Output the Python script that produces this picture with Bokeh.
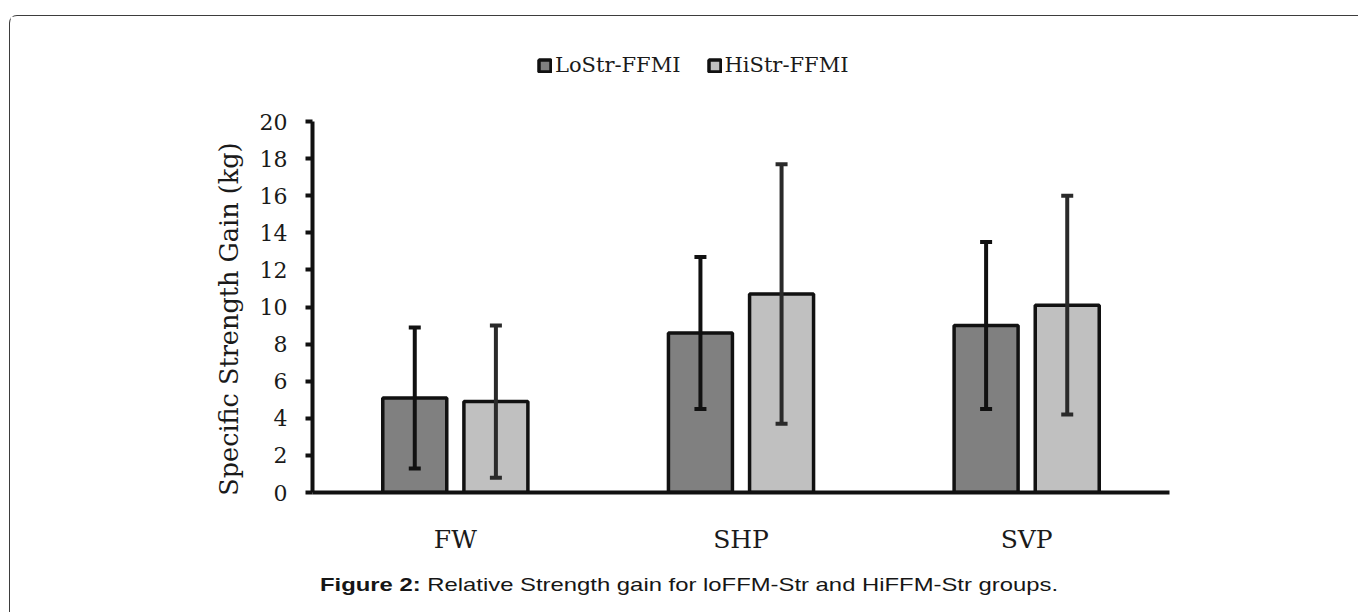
from bokeh.plotting import figure
from bokeh.layouts import column
from bokeh.models import (FactorRange, Range1d, ColumnDataSource, Whisker, TeeHead,
                          Legend, LegendItem, Div)
from bokeh.transform import dodge
from bokeh.embed import file_html
from bokeh.resources import INLINE

# ---- data ----
categories = ["FW", "SHP", "SVP"]
series = ["LoStr-FFMI", "HiStr-FFMI"]
lo_mean = [5.1, 8.6, 9.0]
lo_upper = [8.9, 12.7, 13.5]
lo_lower = [1.3, 4.5, 4.5]
hi_mean = [4.9, 10.7, 10.1]
hi_upper = [9.0, 17.7, 16.0]
hi_lower = [0.8, 3.7, 4.2]
y_ticks = [0, 2, 4, 6, 8, 10, 12, 14, 16, 18, 20]
y_label = "Specific Strength Gain (kg)"
caption_bold = "Figure 2:"
caption_text = "Relative Strength gain for loFFM-Str and HiFFM-Str groups."

SERIF = "DejaVu Serif"
SANS = "Liberation Sans"
LO_FILL, HI_FILL, EDGE = "#808080", "#c0c0c0", "#111111"

src = ColumnDataSource(dict(cat=categories, lo=lo_mean, hi=hi_mean,
                            lo_up=lo_upper, lo_low=lo_lower,
                            hi_up=hi_upper, hi_low=hi_lower))

# ---- legend strip (top): same bar styles, renderers hidden, only the legend shows ----
pl = figure(width=1347, height=80, min_border=0,
            x_range=FactorRange(*categories, range_padding=0), y_range=Range1d(100, 101),
            x_axis_location=None, y_axis_location=None,
            output_backend="svg", toolbar_location=None,
            background_fill_color="white", border_fill_color="white", outline_line_color=None)
pl.xgrid.grid_line_color = None
pl.ygrid.grid_line_color = None
lg_lo = pl.vbar(x="cat", top="lo", bottom=0, width=0.224, fill_color=LO_FILL, line_color=EDGE,
                line_width=3.5, source=src)
lg_hi = pl.vbar(x="cat", top="hi", bottom=0, width=0.224, fill_color=HI_FILL, line_color=EDGE,
                line_width=3.5, source=src)
lg_lo.visible = False
lg_hi.visible = False
legend = Legend(items=[LegendItem(label=series[0], renderers=[lg_lo]),
                       LegendItem(label=series[1], renderers=[lg_hi])],
                orientation="horizontal", location=(225, 19),
                glyph_width=15, glyph_height=15, label_standoff=3, spacing=26,
                padding=0, margin=0, border_line_color=None, background_fill_alpha=0,
                inactive_fill_alpha=0,
                label_text_font=SERIF, label_text_font_size="21px", label_text_color="#1a1a1a")
pl.add_layout(legend)

# ---- main chart ----
p = figure(x_range=FactorRange(*categories, range_padding=0), y_range=Range1d(0, 20),
           frame_width=857, frame_height=371,
           min_border_left=302, min_border_right=188, min_border_top=25, min_border_bottom=64,
           output_backend="svg", toolbar_location=None,
           background_fill_color="white", border_fill_color="white", outline_line_color=None)

p.xgrid.grid_line_color = None
p.ygrid.grid_line_color = None

# bars
r_lo = p.vbar(x=dodge("cat", -0.142, range=p.x_range), top="lo", bottom=0, width=0.224,
              fill_color=LO_FILL, line_color=EDGE, line_width=3.5, source=src)
r_hi = p.vbar(x=dodge("cat", 0.142, range=p.x_range), top="hi", bottom=0, width=0.224,
              fill_color=HI_FILL, line_color=EDGE, line_width=3.5, source=src)

# error bars
for off, up, lo, col in [(-0.142, "lo_up", "lo_low", "#111111"), (0.142, "hi_up", "hi_low", "#2a2a2a")]:
    w = Whisker(base=dodge("cat", off, range=p.x_range), upper=up, lower=lo, source=src,
                line_color=col, line_width=4, level="annotation",
                upper_head=TeeHead(size=12, line_width=4, line_color=col),
                lower_head=TeeHead(size=12, line_width=4, line_color=col))
    p.add_layout(w)

# y axis
ya = p.yaxis[0]
ya.ticker = y_ticks
ya.axis_line_width = 4
ya.axis_line_color = "#111111"
ya.major_tick_out = 7
ya.major_tick_in = 0
ya.major_tick_line_width = 4
ya.major_tick_line_color = "#111111"
ya.minor_tick_line_color = None
ya.major_label_standoff = 18
ya.major_label_text_font = SERIF
ya.major_label_text_font_size = "22px"
ya.major_label_text_color = "#1a1a1a"
ya.axis_label = y_label + "\u00a0\u00a0\u00a0"
ya.axis_label_text_font = SERIF
ya.axis_label_text_font_size = "25.5px"
ya.axis_label_text_font_style = "normal"
ya.axis_label_text_color = "#1a1a1a"
ya.axis_label_standoff = 13

# x axis
xa = p.xaxis[0]
xa.axis_line_width = 4
xa.axis_line_color = "#111111"
xa.major_tick_out = 0
xa.major_tick_in = 0
xa.major_tick_line_color = None
xa.minor_tick_line_color = None
xa.major_label_standoff = 32
xa.major_label_text_font = SERIF
xa.major_label_text_font_size = "25px"
xa.major_label_text_color = "#1a1a1a"

# caption
caption = Div(text=(
    '<span style="display:inline-block;white-space:nowrap;margin-left:305px;margin-top:14px;'
    'font-family:\'Liberation Sans\';font-size:19px;line-height:19px;color:#161616;'
    'transform:scaleX(1.255);transform-origin:0 0;">'
    f'<b>{caption_bold}</b> {caption_text}</span>'),
    width=1347, height=54)

root = column(pl, p, caption, margin=(15, 0, 0, 9),
              styles={"border-top": "1.5px solid #3d3d3d", "border-left": "1.5px solid #3d3d3d",
                      "border-top-left-radius": "8px"})

open("out.html", "w").write(file_html(root, INLINE))
